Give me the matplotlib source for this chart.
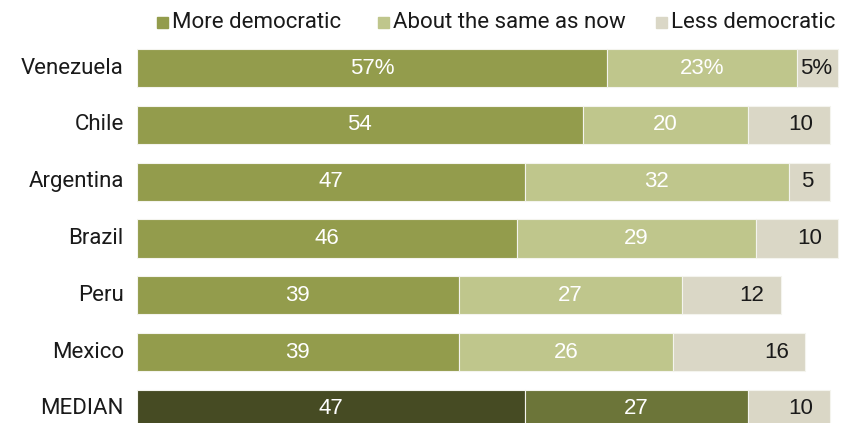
import matplotlib.pyplot as plt
from matplotlib.patches import Rectangle

countries = ['Venezuela', 'Chile', 'Argentina', 'Brazil', 'Peru', 'Mexico', 'MEDIAN']
more_dem = [57, 54, 47, 46, 39, 39, 47]
same_now = [23, 20, 32, 29, 27, 26, 27]
less_dem = [5, 10, 5, 10, 12, 16, 10]
series_names = ['More democratic', 'About the same as now', 'Less democratic']

c_more = '#939c4c'
c_same = '#bfc68c'
c_less = '#dad7c6'
# darker shades for the median row
c_more_med = '#464b23'
c_same_med = '#6c7539'

label_font = ['Roboto', 'DejaVu Sans']
value_font = ['Liberation Sans', 'DejaVu Sans']

W, H = 846, 423
fig = plt.figure(figsize=(W / 100, H / 100), dpi=100)
ax = fig.add_axes([137 / W, 0, (W - 137) / W, 1])

px_per_unit = 8.25
row_step = 56.83
ax.set_xlim(0, (W - 137) / px_per_unit)
ax.set_ylim((H - 68) / row_step, -68 / row_step)
ax.axis('off')

for i, name in enumerate(countries):
    median = name == 'MEDIAN'
    cols = [c_more_med if median else c_more, c_same_med if median else c_same, c_less]
    vals = [more_dem[i], same_now[i], less_dem[i]]
    left = 0
    for j, v in enumerate(vals):
        ax.barh(i, v, left=left, height=0.67, color=cols[j], edgecolor='#f4f4ee', linewidth=0.8)
        txt = str(v) + ('%' if i == 0 else '')
        if j < 2:
            ax.text(left + v / 2, i, txt, ha='center', va='center', color='white',
                    fontsize=16, family=value_font)
        else:
            off = 0.7 if i == 0 else 2.0
            ax.text(left + v - off, i, txt, ha='right', va='center', color='#1a1a1a',
                    fontsize=16, family=value_font)
        left += v
    ax.text(-1.6, i, name, ha='right', va='center', fontsize=16, family=label_font,
            color='#1a1a1a')

# legend along the top
leg_x = [157, 378, 656]
for x, nm, c in zip(leg_x, series_names, [c_more, c_same, c_less]):
    fig.add_artist(Rectangle((x / W, 1 - 28 / H), 11 / W, 11 / H, color=c,
                             transform=fig.transFigure))
    fig.text((x + 15) / W, 1 - 23 / H, nm, ha='left', va='center', fontsize=16,
             family=label_font, color='#1a1a1a')

fig.savefig('out.png', dpi=100)
